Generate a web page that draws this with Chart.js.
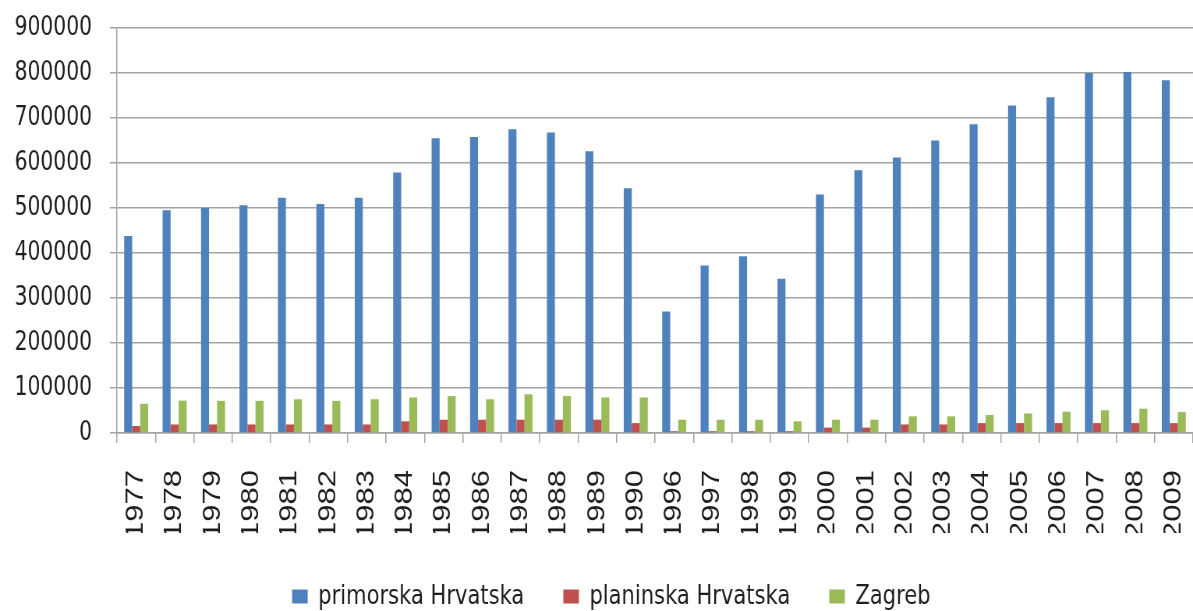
<!DOCTYPE html>
<html>
<head>
<meta charset="utf-8">
<title>Noćenja turista po regijama</title>
<script src="https://cdn.jsdelivr.net/npm/chart.js@4"></script>
<style>
  html, body { margin: 0; padding: 0; background: #fff; overflow: hidden; }
</style>
</head>
<body>
<!-- platno je šire od prikaza pa se cijeli grafikon sabija vodoravno -->
<canvas id="grafikon" width="1530" height="620" style="width:1193px;height:620px;"></canvas>
<script>
const godine = ['1977', '1978', '1979', '1980', '1981', '1982', '1983', '1984', '1985', '1986',
    '1987', '1988', '1989', '1990', '1996', '1997', '1998', '1999', '2000', '2001',
    '2002', '2003', '2004', '2005', '2006', '2007', '2008', '2009'];

const primorska = [438000, 495000, 500000, 506000, 523000, 509000, 523000, 579000, 655000, 658000,
    675000, 668000, 626000, 544000, 270000, 372000, 393000, 343000, 530000, 584000,
    612000, 650000, 686000, 728000, 746000, 800000, 802000, 784000];

const planinska = [15500, 19000, 19000, 19000, 19000, 19000, 19000, 26000, 29500, 29500,
    29500, 29500, 29500, 22000, 4000, 4000, 4000, 4000, 12000, 12000,
    19000, 19000, 22000, 22000, 22000, 22000, 22000, 22000];

const zagreb = [65000, 72000, 71500, 71500, 75000, 71500, 75000, 79000, 82000, 75000,
    86000, 82000, 79000, 79000, 29500, 29500, 29500, 26000, 29500, 29500,
    37000, 37000, 40000, 43500, 47500, 50500, 54000, 46500];

const yMax = 900000;
const yKorak = 100000;

const siva = '#a3a3a3';

// legenda malo udesno od sredine
const pomakLegende = {
    id: 'pomakLegende',
    afterLayout(chart) {
        if (chart.legend) chart.legend.left += 38;
    }
};

const ctx = document.getElementById('grafikon').getContext('2d');
new Chart(ctx, {
    type: 'bar',
    data: {
        labels: godine,
        datasets: [
            { label: 'primorska Hrvatska', data: primorska, backgroundColor: '#4f81bd' },
            { label: 'planinska Hrvatska', data: planinska, backgroundColor: '#c0504d' },
            { label: 'Zagreb', data: zagreb, backgroundColor: '#9bbb59' }
        ]
    },
    options: {
        responsive: false,
        animation: false,
        devicePixelRatio: 1,
        layout: { padding: { top: 28, left: 0, right: 0, bottom: 0 } },
        datasets: {
            bar: { categoryPercentage: 0.625, barPercentage: 1 }
        },
        plugins: {
            legend: {
                position: 'bottom',
                labels: {
                    font: { family: 'DejaVu Sans', size: 27 },
                    color: '#1e1e1e',
                    boxWidth: 20,
                    boxHeight: 14,
                    padding: 50
                }
            },
            tooltip: { enabled: false }
        },
        scales: {
            x: {
                grid: { drawOnChartArea: false, color: siva, lineWidth: 1.5, tickLength: 10, offset: true },
                border: { color: siva, width: 1.5 },
                ticks: {
                    minRotation: 90,
                    maxRotation: 90,
                    autoSkip: false,
                    padding: 27,
                    color: '#1e1e1e',
                    font: { family: 'Liberation Sans', size: 31 }
                },
                afterFit(s) {
                    s.height = 100;
                    s.paddingLeft = 0;
                    s.paddingRight = 0;
                }
            },
            y: {
                min: 0,
                max: yMax,
                grid: { color: siva, lineWidth: 1.5, tickLength: 9 },
                border: { color: siva, width: 1.5 },
                ticks: {
                    stepSize: yKorak,
                    padding: 23,
                    color: '#1e1e1e',
                    font: { family: 'DejaVu Sans', size: 26 },
                    callback: v => String(v)
                },
                afterFit(s) {
                    s.width = 150;
                    s.paddingTop = 0;
                    s.paddingBottom = 0;
                }
            }
        }
    },
    plugins: [pomakLegende]
});
</script>
</body>
</html>
